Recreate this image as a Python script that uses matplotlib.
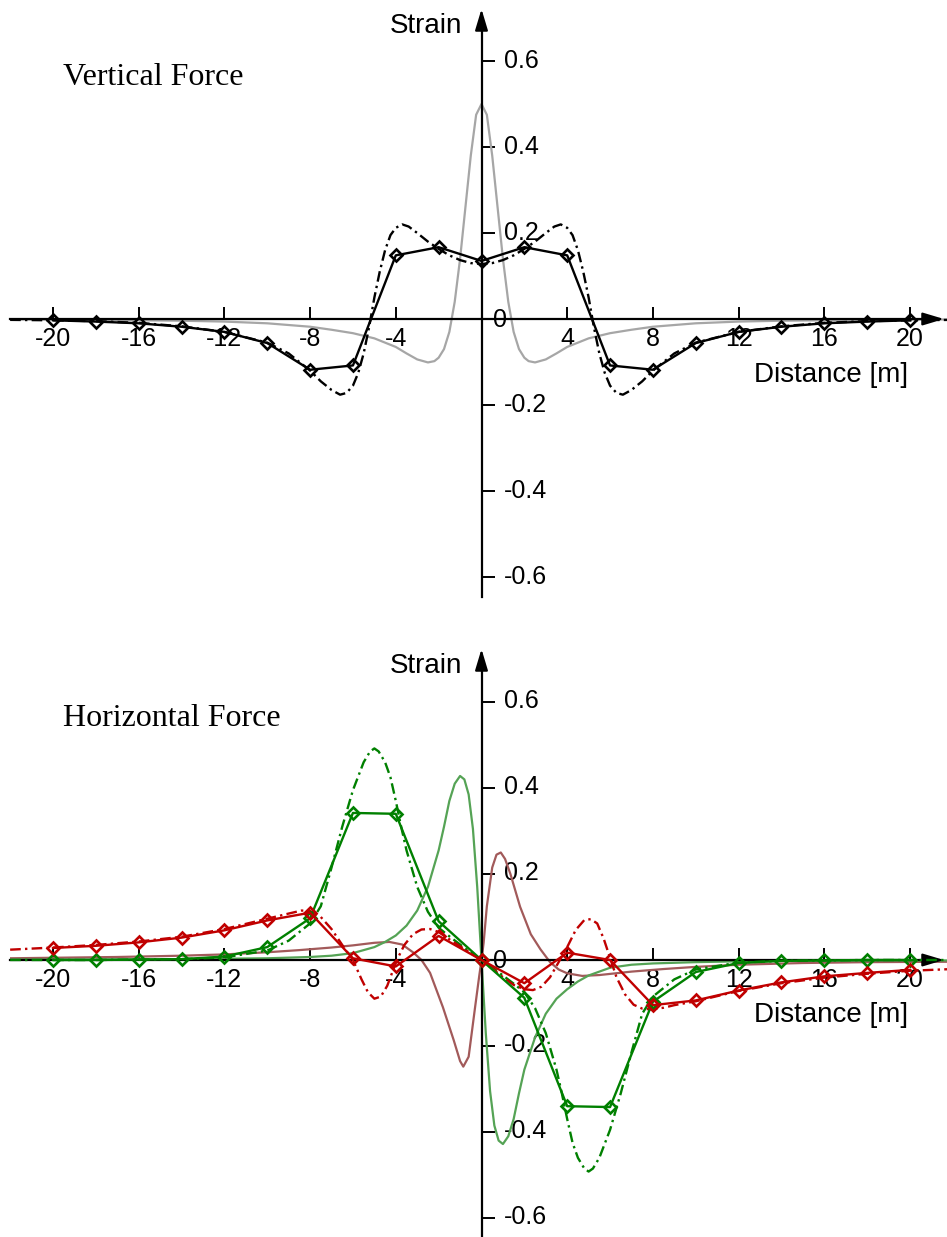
import matplotlib
matplotlib.use('Agg')
import matplotlib.pyplot as plt
from matplotlib.transforms import ScaledTranslation

plt.rcParams['font.family'] = ['Liberation Sans', 'DejaVu Sans']

# ---------------- data ----------------
X_TICKS = [-20, -16, -12, -8, -4, 4, 8, 12, 16, 20]
X_TICK_LABELS = ['-20', '-16', '-12', '-8', '-4', '4', '8', '12', '16', '20']
Y_TICKS = [-0.6, -0.4, -0.2, 0.2, 0.4, 0.6]
Y_TICK_LABELS = ['-0.6', '-0.4', '-0.2', '0.2', '0.4', '0.6']

# sampled (marker) positions
X_FEM = [-20, -18, -16, -14, -12, -10, -8, -6, -4, -2, 0, 2, 4, 6, 8, 10, 12, 14, 16, 18, 20]

# --- Vertical force ---
V_FEM = [-0.003, -0.006, -0.010, -0.018, -0.030, -0.056, -0.118, -0.108, 0.148, 0.167, 0.135,
         0.167, 0.148, -0.108, -0.118, -0.056, -0.030, -0.018, -0.010, -0.006, -0.003]

V_ANA_X = [-22, -20, -18, -16, -14, -12, -10, -9, -8, -7.5, -7, -6.6, -6.3, -6.0, -5.75, -5.5,
           -5.25, -5.0, -4.75, -4.5, -4.25, -4.0, -3.7, -3.4, -3.0, -2.5, -2.0, -1.5, -1.0, -0.5,
           0, 0.5, 1.0, 1.5, 2.0, 2.5, 3.0, 3.4, 3.7, 4.0, 4.25, 4.5, 4.75, 5.0, 5.25, 5.5, 5.75,
           6.0, 6.3, 6.6, 7, 7.5, 8, 9, 10, 12, 14, 16, 18, 20, 22]
V_ANA = [-0.002, -0.003, -0.005, -0.009, -0.017, -0.030, -0.055, -0.080, -0.120, -0.145, -0.165,
         -0.176, -0.172, -0.155, -0.125, -0.080, -0.020, 0.050, 0.110, 0.160, 0.195, 0.212, 0.220,
         0.215, 0.200, 0.180, 0.163, 0.148, 0.137, 0.130, 0.128,
         0.130, 0.137, 0.148, 0.163, 0.180, 0.200, 0.215, 0.220, 0.212, 0.195, 0.160, 0.110, 0.050,
         -0.020, -0.080, -0.125, -0.155, -0.172, -0.176, -0.165, -0.145, -0.120, -0.080, -0.055,
         -0.030, -0.017, -0.009, -0.005, -0.003, -0.002]

V_SURF_X = [-22, -18, -14, -12, -10, -8, -7, -6, -5, -4, -3.5, -3, -2.5, -2.2, -2.0, -1.75, -1.5,
            -1.25, -1.0, -0.75, -0.5, -0.25, 0, 0.25, 0.5, 0.75, 1.0, 1.25, 1.5, 1.75, 2.0, 2.2,
            2.5, 3, 3.5, 4, 5, 6, 7, 8, 10, 12, 14, 18, 22]
V_SURF = [-0.001, -0.002, -0.004, -0.006, -0.010, -0.018, -0.025, -0.033, -0.045, -0.065, -0.080,
          -0.094, -0.101, -0.098, -0.090, -0.070, -0.030, 0.040, 0.140, 0.260, 0.380, 0.475, 0.500,
          0.475, 0.380, 0.260, 0.140, 0.040, -0.030, -0.070, -0.090, -0.098, -0.101, -0.094,
          -0.080, -0.065, -0.045, -0.033, -0.025, -0.018, -0.010, -0.006, -0.004, -0.002, -0.001]

# --- Horizontal force ---
H_GREEN_FEM = [0.000, 0.000, 0.001, 0.002, 0.008, 0.030, 0.097, 0.342, 0.340, 0.090, 0.000,
               -0.088, -0.340, -0.342, -0.097, -0.028, -0.007, -0.002, -0.001, 0.000, 0.000]
H_RED_FEM = [0.028, 0.033, 0.041, 0.052, 0.069, 0.092, 0.110, 0.004, -0.015, 0.056, 0.000,
             -0.054, 0.017, 0.000, -0.105, -0.094, -0.071, -0.052, -0.038, -0.030, -0.023]

H_GREEN_ANA_X = [-22, -18, -16, -14, -12, -10, -9, -8, -7.5, -7.0, -6.5, -6.0, -5.5, -5.2, -5.0,
                 -4.8, -4.5, -4.25, -4.0, -3.75, -3.5, -3.0, -2.5, -2.0, -1.5, -1.0, -0.5, 0,
                 0.5, 1.0, 1.5, 2.0, 2.5, 3.0, 3.5, 3.75, 4.0, 4.25, 4.5, 4.8, 5.0, 5.2, 5.5, 6.0,
                 6.5, 7.0, 7.5, 8, 9, 10, 12, 14, 16, 18, 22]
H_GREEN_ANA = [0.000, 0.000, 0.001, 0.002, 0.006, 0.022, 0.045, 0.085, 0.125, 0.215, 0.310, 0.395,
               0.460, 0.485, 0.492, 0.485, 0.460, 0.425, 0.370, 0.310, 0.255, 0.170, 0.112, 0.075,
               0.055, 0.036, 0.017, 0.000,
               -0.017, -0.036, -0.055, -0.075, -0.112, -0.170, -0.255, -0.310, -0.370, -0.425,
               -0.460, -0.485, -0.492, -0.485, -0.460, -0.395, -0.310, -0.215, -0.125, -0.085,
               -0.045, -0.022, -0.006, -0.002, -0.001, 0.000, 0.000]

H_RED_ANA_X = [-22, -20, -18, -16, -14, -12, -10, -9, -8.4, -8.0, -7.5, -7.0, -6.5, -6.0, -5.6,
               -5.3, -5.0, -4.7, -4.4, -4.1, -3.9, -3.6, -3.2, -2.8, -2.4, -2.0, -1.5, -1.0, -0.5,
               0, 0.5, 1.0, 1.5, 2.0, 2.4, 2.8, 3.2, 3.6, 4.0, 4.4, 4.8, 5.1, 5.4, 5.7, 6.0, 6.3,
               6.7, 7.1, 7.5, 7.9, 8.5, 9, 10, 12, 14, 16, 18, 20, 22]
H_RED_ANA = [0.024, 0.029, 0.035, 0.043, 0.054, 0.072, 0.096, 0.108, 0.115, 0.114, 0.100, 0.072,
             0.035, 0.000, -0.045, -0.075, -0.090, -0.085, -0.060, -0.020, 0.005, 0.035, 0.060,
             0.071, 0.072, 0.065, 0.048, 0.032, 0.016, 0.000, -0.020, -0.040, -0.058, -0.068,
             -0.070, -0.062, -0.040, -0.005, 0.030, 0.070, 0.093, 0.095, 0.085, 0.050, 0.005,
             -0.040, -0.080, -0.104, -0.113, -0.115, -0.111, -0.105, -0.096, -0.072, -0.054,
             -0.041, -0.032, -0.025, -0.021]

H_LGREEN_X = [-22, -18, -14, -12, -10, -8, -7, -6, -5, -4.5, -4, -3.5, -3, -2.5, -2.0, -1.75,
              -1.5, -1.25, -1.0, -0.8, -0.6, -0.4, -0.2, -0.1, 0, 0.1, 0.2, 0.4, 0.6, 0.8, 1.0,
              1.25, 1.5, 1.75, 2.0, 2.5, 3.0, 3.5, 4, 4.5, 5, 6, 7, 8, 10, 12, 14, 18, 22]
H_LGREEN = [0.001, 0.001, 0.002, 0.003, 0.004, 0.007, 0.010, 0.016, 0.030, 0.042, 0.057, 0.080,
            0.115, 0.170, 0.255, 0.310, 0.370, 0.410, 0.428, 0.420, 0.385, 0.305, 0.170, 0.085,
            0.000, -0.085, -0.170, -0.305, -0.385, -0.420, -0.428, -0.410, -0.370, -0.310,
            -0.255, -0.180, -0.125, -0.090, -0.068, -0.050, -0.036, -0.018, -0.011, -0.008,
            -0.005, -0.003, -0.002, -0.001, -0.001]

H_BROWN_X = [-22, -17, -14, -12, -10, -8.5, -7, -6, -5, -4.3, -3.7, -3.2, -2.8, -2.4, -1.8, -1.3,
             -1.0, -0.85, -0.6, -0.3, -0.1, 0, 0.1, 0.25, 0.5, 0.7, 0.9, 1.1, 1.35, 1.8, 2.3,
             2.75, 3.2, 3.6, 4.0, 4.7, 5.5, 7.0, 8.5, 10, 12, 15, 18, 22]
H_BROWN = [0.004, 0.007, 0.010, 0.013, 0.018, 0.023, 0.029, 0.034, 0.040, 0.042, 0.036, 0.018,
           0.000, -0.030, -0.110, -0.186, -0.235, -0.248, -0.225, -0.110, -0.035, 0.000, 0.040,
           0.125, 0.215, 0.245, 0.250, 0.235, 0.200, 0.124, 0.060, 0.025, -0.005, -0.022,
           -0.031, -0.037, -0.035, -0.027, -0.021, -0.016, -0.011, -0.007, -0.005, -0.004]

# ---------------- styling ----------------
BLACK = '#000000'
GRAY = '#a6a6a6'
GREEN = '#008000'
LGREEN = '#55a355'
RED = '#c00000'
BROWN = '#a25a5a'
DASHDOT = (0, (4.5, 1.8, 1.0, 1.8))

W, H = 947, 1237
fig = plt.figure(figsize=(W / 100, H / 100), dpi=100)

PX_X = 21.425   # pixels per metre
X0 = 481.5      # pixel column of x = 0
PX_Y = 430.0    # pixels per strain unit
LEFT_PX, RIGHT_PX = 10, 947


def make_axes(top_px, zero_px, bottom_px):
    ax = fig.add_axes([LEFT_PX / W, 1 - bottom_px / H,
                       (RIGHT_PX - LEFT_PX) / W, (bottom_px - top_px) / H])
    xmin = (LEFT_PX - X0) / PX_X
    xmax = (RIGHT_PX - X0) / PX_X
    ymin = (zero_px - bottom_px) / PX_Y
    ymax = (zero_px - top_px) / PX_Y
    ax.set_xlim(xmin, xmax)
    ax.set_ylim(ymin, ymax)
    ax.patch.set_visible(False)
    for s in ('top', 'left'):
        ax.spines[s].set_visible(False)
    ax.spines['bottom'].set_position(('data', 0))
    ax.spines['right'].set_position(('data', 0))
    x_arrow_end = (RIGHT_PX - 3 - X0) / PX_X
    y_arrow_end = ymax - 1 / PX_Y
    ax.spines['bottom'].set_bounds(xmin, x_arrow_end - 0.4)
    ax.spines['right'].set_bounds(ymin, y_arrow_end - 0.02)
    for s in ('bottom', 'right'):
        ax.spines[s].set_linewidth(1.6)
    ax.yaxis.set_ticks_position('right')
    ax.xaxis.set_ticks_position('bottom')
    ax.set_xticks(X_TICKS, X_TICK_LABELS)
    ax.set_yticks(Y_TICKS, Y_TICK_LABELS)
    ax.tick_params(axis='x', direction='in', length=9, width=1.4, pad=5.5, labelsize=18)
    ax.tick_params(axis='y', direction='out', length=9, width=1.4, pad=7.0, labelsize=18)
    shift_up = ScaledTranslation(0, 3 / 100, fig.dpi_scale_trans)
    for t in ax.yaxis.get_major_ticks():
        t.label2.set_transform(t.label2.get_transform() + shift_up)
    arrow = dict(arrowstyle='-|>,head_length=0.8,head_width=0.24', color='k', lw=1.6,
                 mutation_scale=16, shrinkA=0, shrinkB=0)
    ax.annotate('', xy=(x_arrow_end, 0), xytext=(x_arrow_end - 1.0, 0),
                arrowprops=arrow, annotation_clip=False)
    ax.annotate('', xy=(0, y_arrow_end), xytext=(0, y_arrow_end - 0.05),
                arrowprops=arrow, annotation_clip=False)
    ax.annotate('0', xy=(0, 0), xytext=(8.3, 1.0), textcoords='offset points',
                ha='left', va='center_baseline', fontsize=18)
    return ax


def fem_line(ax, x, y, color):
    ax.plot(x, y, color=color, lw=1.7, marker='D', ms=6, mfc='none', mec=color, mew=1.9,
            zorder=4)


# ---------------- top panel ----------------
ax1 = make_axes(8, 319, 597)
ax1.plot(V_SURF_X, V_SURF, color=GRAY, lw=1.6, zorder=2)
ax1.plot(V_ANA_X, V_ANA, color=BLACK, lw=1.7, ls=DASHDOT, zorder=3)
fem_line(ax1, X_FEM, V_FEM, BLACK)

# ---------------- bottom panel ----------------
ax2 = make_axes(648, 960, 1237)
ax2.plot(H_BROWN_X, H_BROWN, color=BROWN, lw=1.6, zorder=2)
ax2.plot(H_LGREEN_X, H_LGREEN, color=LGREEN, lw=1.6, zorder=2)
ax2.plot(H_GREEN_ANA_X, H_GREEN_ANA, color=GREEN, lw=1.7, ls=DASHDOT, zorder=3)
ax2.plot(H_RED_ANA_X, H_RED_ANA, color=RED, lw=1.7, ls=DASHDOT, zorder=3)
fem_line(ax2, X_FEM, H_GREEN_FEM, GREEN)
fem_line(ax2, X_FEM, H_RED_FEM, RED)

# ---------------- texts ----------------
for off in (0, 640):
    fig.text(462 / W, 1 - (33 + off) / H, 'Strain', ha='right', va='baseline', fontsize=20)
    fig.text(908 / W, 1 - (382 + off) / H, 'Distance [m]', ha='right', va='baseline', fontsize=20)

fig.text(63 / W, 1 - 85 / H, 'Vertical Force', ha='left', va='baseline', fontsize=23,
         family=['Liberation Serif', 'DejaVu Serif'])
fig.text(63 / W, 1 - 726 / H, 'Horizontal Force', ha='left', va='baseline', fontsize=23,
         family=['Liberation Serif', 'DejaVu Serif'])

fig.savefig('out.png', dpi=100)
